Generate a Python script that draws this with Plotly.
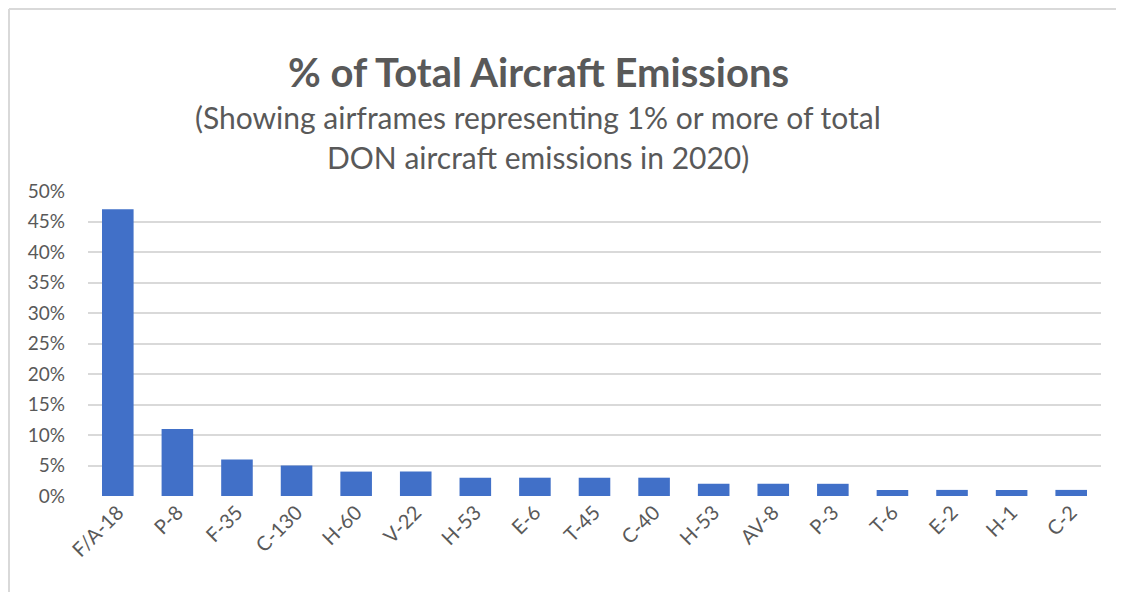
import plotly.graph_objects as go

categories = ["F/A-18", "P-8", "F-35", "C-130", "H-60", "V-22", "H-53", "E-6", "T-45",
              "C-40", "H-53", "AV-8", "P-3", "T-6", "E-2", "H-1", "C-2"]
values = [0.47, 0.11, 0.06, 0.05, 0.04, 0.04, 0.03, 0.03, 0.03,
          0.03, 0.02, 0.02, 0.02, 0.01, 0.01, 0.01, 0.01]
y_ticks = [0, 0.05, 0.10, 0.15, 0.20, 0.25, 0.30, 0.35, 0.40, 0.45, 0.50]

positions = list(range(len(categories)))

# page has an 8px body margin; target pixel coordinates are in window space
OFF = 8
W, H = 1124 - OFF, 592 - OFF
L, R, T, B = 88 - OFF, 23, 191 - OFF, 96
pw = W - L - R
ph = H - T - B


def px_x(x):  # window x -> paper x
    return (x - OFF - L) / pw


def px_y(y):  # window y -> paper y
    return (OFF + H - B - y) / ph


fig = go.Figure()
fig.add_trace(go.Bar(
    x=positions, y=values,
    marker=dict(color="#4170c8", line=dict(width=0)),
    width=0.53,
    hoverinfo="x+y",
))

font_family = "Lato, 'Open Sans', sans-serif"
grey = "#595959"

fig.update_layout(
    width=W, height=H,
    margin=dict(l=L, r=R, t=T, b=B),
    paper_bgcolor="white", plot_bgcolor="white",
    showlegend=False,
    font=dict(family=font_family, color=grey),
    xaxis=dict(
        tickmode="array", tickvals=positions, ticktext=categories,
        range=[-0.5, len(categories) - 0.5],
        tickangle=-45, tickfont=dict(size=20, color=grey),
        showgrid=False, zeroline=False, showline=False, ticks="",
    ),
    yaxis=dict(
        range=[0, 0.5], tickvals=y_ticks, tickformat=".0%",
        tickfont=dict(size=19, color=grey),
        showgrid=True, gridcolor="#d9d9d9", gridwidth=2,
        zeroline=False, showline=False, ticks="", ticklabelstandoff=22,
    ),
    annotations=[
        dict(text="<b>% of Total Aircraft Emissions</b>", xref="paper", yref="paper",
             x=px_x(538), y=px_y(72), xanchor="center", yanchor="middle",
             showarrow=False, font=dict(size=40, color=grey, family=font_family)),
        dict(text="(Showing airframes representing 1% or more of total", xref="paper", yref="paper",
             x=px_x(538), y=px_y(117), xanchor="center", yanchor="middle",
             showarrow=False, font=dict(size=30, color=grey, family=font_family)),
        dict(text="DON aircraft emissions in 2020)", xref="paper", yref="paper",
             x=px_x(538), y=px_y(157), xanchor="center", yanchor="middle",
             showarrow=False, font=dict(size=30, color=grey, family=font_family)),
    ],
    shapes=[
        dict(type="line", xref="paper", yref="paper",
             x0=px_x(9), x1=px_x(9), y0=px_y(9), y1=px_y(600),
             line=dict(color="#d9d9d9", width=2)),
        dict(type="line", xref="paper", yref="paper",
             x0=px_x(9), x1=px_x(1130), y0=px_y(9), y1=px_y(9),
             line=dict(color="#d9d9d9", width=2)),
    ],
)

fig.write_html("out.html")
